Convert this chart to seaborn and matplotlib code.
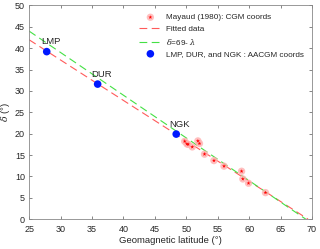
import numpy as np
import pandas as pd
import matplotlib
matplotlib.use("Agg")
import matplotlib.pyplot as plt
import seaborn as sns
from matplotlib.legend_handler import HandlerTuple

# Mayaud (1980), CGM coords
mayaud_lat = [49.75, 50.1, 50.3, 50.95, 51.85, 52.1, 52.9, 54.4, 56.0, 58.8, 59.0, 59.9, 62.6]
mayaud_delta = [18.2, 17.6, 17.5, 16.9, 18.3, 17.7, 15.2, 13.7, 12.4, 11.2, 9.4, 8.4, 6.2]

# stations, AACGM coords
stations = ["LMP", "DUR", "NGK"]
station_lat = [27.8, 35.9, 48.4]
station_delta = [39.2, 31.6, 19.9]

# fitted line delta = a - b*lat
fit_a = 65.62
fit_b = 0.946
fit_lat = [25, fit_a / fit_b]
ref_lat = [25, 69]

sns.set_style("ticks")
plt.rcParams["font.family"] = ["Liberation Sans", "DejaVu Sans"]
plt.rcParams["mathtext.fontset"] = "dejavuserif"

fig = plt.figure(figsize=(3.2, 2.49), dpi=100)
ax = fig.add_axes([0.091, 0.12, 0.884, 0.858])

df_fit = pd.DataFrame({"x": fit_lat, "y": [fit_a - fit_b * v for v in fit_lat]})
df_ref = pd.DataFrame({"x": ref_lat, "y": [69 - v for v in ref_lat]})

# halo + star for Mayaud points
sns.scatterplot(x=mayaud_lat, y=mayaud_delta, marker="o", color="#ffb0b0", s=28,
                edgecolor="none", alpha=0.8, ax=ax, zorder=3, label="halo")
sns.scatterplot(x=mayaud_lat, y=mayaud_delta, marker="*", color="red", s=9,
                edgecolor="none", ax=ax, zorder=3, label="star")
sns.lineplot(data=df_fit, x="x", y="y", color="#ff5a5a", lw=0.8,
             dashes=(7, 4), ax=ax, label="fit")
sns.lineplot(data=df_ref, x="x", y="y", color="#44e044", lw=0.8,
             dashes=(7, 4), ax=ax, label="ref")
sns.scatterplot(x=station_lat, y=station_delta, color="#0018ff", s=30,
                edgecolor="none", ax=ax, zorder=4, label="stn")
for name, x, y in zip(stations, station_lat, station_delta):
    ax.text(x + 0.6, y + 1.3, name, fontsize=6.8, ha="center", va="bottom")

h, l = ax.get_legend_handles_labels()
hd = dict(zip(l, h))
ax.legend([(hd["halo"], hd["star"]), hd["fit"], hd["ref"], hd["stn"]],
          ["Mayaud (1980): CGM coords", "Fitted data", r"$\delta$=69- $\lambda$",
           "LMP, DUR, and NGK : AACGM coords"],
          handler_map={tuple: HandlerTuple(ndivide=1, pad=0)},
          loc="upper right", frameon=False, fontsize=5.9, handlelength=2.8,
          handletextpad=0.5, labelspacing=0.45, borderaxespad=0.6)

ax.set_xlim(25, 70)
ax.set_ylim(0, 50)
ax.set_xticks(np.arange(25, 71, 5))
ax.set_yticks(np.arange(0, 51, 5))
ax.tick_params(direction="in", length=2, width=0.5, labelsize=6.5,
               top=True, right=True, color="#555555")
ax.tick_params(axis="x", pad=4)
ax.tick_params(axis="y", pad=3)
for s in ax.spines.values():
    s.set_visible(True)
    s.set_linewidth(0.6)
    s.set_color("#888888")
ax.set_xlabel("Geomagnetic latitude (°)", fontsize=6.8, labelpad=2)
ax.set_ylabel(r"$\delta$ (°)", fontsize=6.8, labelpad=2)

fig.savefig("out.png", dpi=100)
